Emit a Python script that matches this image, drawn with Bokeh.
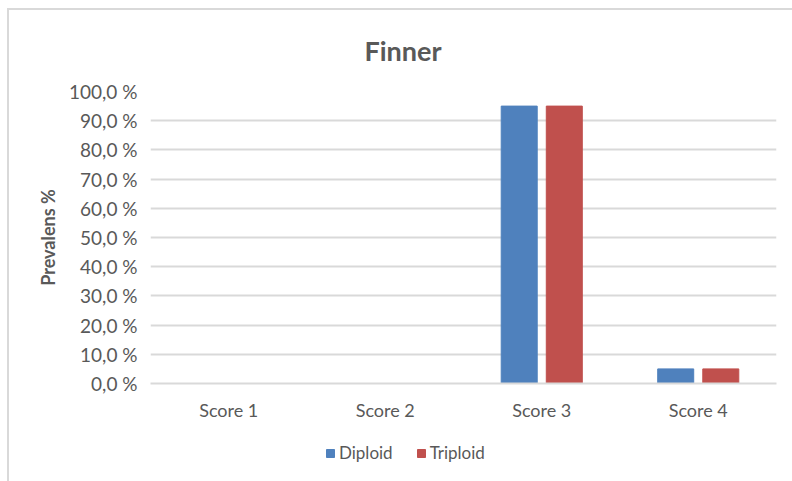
from bokeh.plotting import figure
from bokeh.layouts import column
from bokeh.models import (FactorRange, Range1d, Legend, LegendItem, Title,
                          FixedTicker, ColumnDataSource)
from bokeh.transform import dodge
from bokeh.embed import file_html
from bokeh.resources import INLINE

categories = ["Score 1", "Score 2", "Score 3", "Score 4"]
diploid = [0.0, 0.0, 95.0, 5.0]
triploid = [0.0, 0.0, 95.0, 5.0]
y_ticks = [0, 10, 20, 30, 40, 50, 60, 70, 80, 90, 100]
y_tick_labels = ["0,0 %", "10,0 %", "20,0 %", "30,0 %", "40,0 %", "50,0 %",
                 "60,0 %", "70,0 %", "80,0 %", "90,0 %", "100,0 %"]
title_text = "Finner"
y_label = "Prevalens %"
series_names = ["Diploid", "Triploid"]
colors = ["#4F81BD", "#C0504D"]

FONT = "Lato"
TXT = "#595959"
GRID = "#d9d9d9"

src = ColumnDataSource(dict(cat=categories, diploid=diploid, triploid=triploid))

p = figure(width=783, height=420, x_range=FactorRange(*categories),
           y_range=Range1d(0, 100), output_backend="svg", toolbar_location=None,
           min_border_left=141, min_border_right=16, min_border_top=80,
           min_border_bottom=47)
p.outline_line_color = None
p.background_fill_color = "white"
p.border_fill_color = "white"

r1 = p.vbar(x=dodge("cat", -0.144, range=p.x_range), top="diploid", width=0.23,
            source=src, fill_color=colors[0], line_color=colors[0])
r2 = p.vbar(x=dodge("cat", 0.144, range=p.x_range), top="triploid", width=0.23,
            source=src, fill_color=colors[1], line_color=colors[1])

# axes
p.yaxis.ticker = FixedTicker(ticks=y_ticks)
p.yaxis.major_label_overrides = {t: l for t, l in zip(y_ticks, y_tick_labels)}
p.yaxis.axis_line_color = None
p.yaxis.major_tick_line_color = None
p.yaxis.minor_tick_line_color = None
p.yaxis.major_label_text_font = FONT
p.yaxis.major_label_text_font_size = "19px"
p.yaxis.major_label_text_color = TXT
p.yaxis.major_label_standoff = 7
p.yaxis.axis_label = y_label
p.yaxis.axis_label_text_font = FONT
p.yaxis.axis_label_text_font_size = "18px"
p.yaxis.axis_label_text_font_style = "bold"
p.yaxis.axis_label_text_color = TXT
p.yaxis.axis_label_standoff = 7

p.xaxis.axis_line_color = GRID
p.xaxis.axis_line_width = 2
p.xaxis.major_tick_line_color = None
p.xaxis.minor_tick_line_color = None
p.xaxis.major_label_text_font = FONT
p.xaxis.major_label_text_font_size = "18px"
p.xaxis.major_label_text_color = TXT
p.xaxis.major_label_standoff = 9

p.xgrid.grid_line_color = None
p.ygrid.grid_line_color = GRID
p.ygrid.grid_line_width = 2

t = Title(text=title_text, align="left", offset=214, standoff=46,
          vertical_align="top",
          text_font=FONT, text_font_size="27px", text_font_style="bold",
          text_color=TXT)
p.add_layout(t, "above")

# legend strip below the chart (same data, drawn outside its visible range)
lf = figure(width=783, height=51, x_range=p.x_range, y_range=Range1d(1000, 1001),
            x_axis_type=None, y_axis_type=None, output_backend="svg",
            toolbar_location=None, min_border=0)
lf.outline_line_color = None
lf.border_fill_color = "white"
lf.background_fill_color = "white"
l1 = lf.vbar(x=dodge("cat", -0.144, range=p.x_range), top="diploid", width=0.23,
             source=src, fill_color=colors[0], line_color=colors[0])
l2 = lf.vbar(x=dodge("cat", 0.144, range=p.x_range), top="triploid", width=0.23,
             source=src, fill_color=colors[1], line_color=colors[1])
legend = Legend(items=[LegendItem(label=series_names[0], renderers=[l1]),
                       LegendItem(label=series_names[1], renderers=[l2])],
                orientation="horizontal", location=(175, 18),
                padding=0, margin=0, spacing=23, glyph_width=10, glyph_height=10,
                label_standoff=4, label_text_font=FONT, label_text_font_size="17px",
                label_text_color=TXT, border_line_color=None,
                background_fill_alpha=0)
lf.add_layout(legend, "center")

layout = column(p, lf, spacing=0, margin=(8, 0, 0, 7),
                styles={"border-left": f"2px solid {GRID}",
                        "border-top": f"2px solid {GRID}"})

open("out.html", "w").write(file_html(layout, INLINE))
